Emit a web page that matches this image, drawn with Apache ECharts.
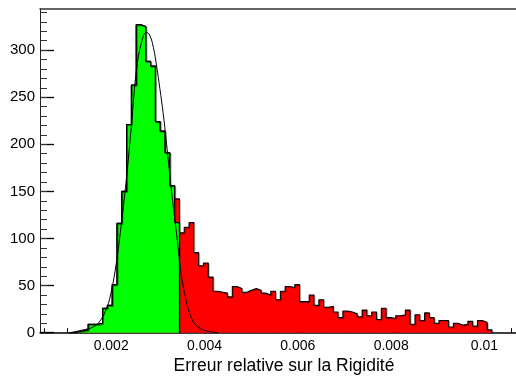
<!DOCTYPE html>
<html>
<head>
<meta charset="utf-8">
<script src="https://cdn.jsdelivr.net/npm/echarts/dist/echarts.min.js"></script>
<style>
  html, body { margin: 0; padding: 0; background: #fff; }
  #main { width: 516px; height: 378px; }
</style>
</head>
<body>
<div id="main"></div>
<script>
// histogram binning (bins of 0.000103, bin j = [j*w, (j+1)*w])
const binWidth = 0.000103;
const firstBin = 10;

// all events, bins 10..97
const allCounts = [
  0, 1, 2, 3, 9, 9, 10, 26, 29, 51,
  116, 150, 221, 263, 327, 325, 288, 283, 224, 214,
  191, 156, 142, 106, 112, 117, 85, 71, 74, 59,
  44, 43, 42, 38, 49, 47, 43, 45, 47, 45,
  42, 40, 44, 35, 44, 49, 48, 51, 33, 33,
  40, 29, 35, 27, 28, 22, 16, 23, 22, 20,
  17, 24, 18, 22, 14, 26, 16, 15, 18, 19,
  24, 9, 19, 13, 21, 16, 10, 13, 13, 6,
  10, 8, 9, 12, 7, 13, 11, 3
];

// selected events (green), bins 10..32
const selCounts = [
  0, 1, 2, 3, 9, 9, 10, 26, 29, 51,
  116, 150, 221, 263, 327, 325, 288, 283, 224, 214,
  191, 156, 117
];

// gaussian fit
const fitX = [0.00105, 0.00134, 0.00155, 0.00169, 0.00184, 0.00194, 0.00205, 0.00216, 0.00227,
  0.00237, 0.00248, 0.00259, 0.00269, 0.00276, 0.00284, 0.00291, 0.00298, 0.00305, 0.00312,
  0.00323, 0.00334, 0.00344, 0.00355, 0.00366, 0.0038, 0.00398, 0.00423];
const fitY = [0, 3, 6, 12, 26, 44, 75, 118, 167, 220, 280, 309, 319, 316, 303, 283, 259, 233, 202,
  150, 104, 61, 33, 15, 6, 2, 0];

const xLabels = [0.002, 0.004, 0.006, 0.008, 0.01];
const yLabels = [0, 50, 100, 150, 200, 250, 300];

const xMinor = [];
for (let i = 1; i <= 21; i++) xMinor.push(i * 0.0005);
const yMinor = [];
for (let i = 1; i <= 34; i++) yMinor.push(i * 10);

function stepData(counts, start) {
  let pts = counts.map((c, i) => [(start + i) * binWidth, c]);
  pts.push([(start + counts.length) * binWidth, 0]);
  return pts;
}

const XMIN = 0.000411, XMAX = 0.010611;
const YMAX = 343.6;
const font = 'Liberation Sans';

let chart = echarts.init(document.getElementById('main'));

let outline = { color: '#000', width: 1.1, shadowColor: 'rgba(0,0,0,0.25)', shadowOffsetX: 1, shadowOffsetY: 1 };

let option = {
  animation: false,
  backgroundColor: '#fff',
  grid: { left: 40, right: 0, top: 9, bottom: 45.3, containLabel: false, outerBoundsMode: 'none' },
  xAxis: [
    {
      type: 'value', position: 'bottom', min: XMIN, max: XMAX,
      axisLine: { show: true, lineStyle: { color: '#000', width: 1.5 } },
      axisTick: { show: true, inside: true, length: 9, customValues: xLabels, lineStyle: { color: '#000', width: 1.2 } },
      axisLabel: {
        show: true, customValues: xLabels, margin: 6, color: '#000',
        fontFamily: font, fontSize: 14, padding: [0, 6, 0, 0],
        formatter: v => String(Math.round(v * 1000) / 1000)
      },
      splitLine: { show: false },
      name: 'Erreur relative sur la Rigidité',
      nameLocation: 'middle', nameGap: 24.5,
      nameTextStyle: { color: '#000', fontFamily: font, fontSize: 17.5, padding: [0, 0, 0, 12] }
    },
    {
      type: 'value', position: 'bottom', min: XMIN, max: XMAX,
      axisLine: { show: false },
      axisTick: { show: true, inside: true, length: 4.5, customValues: xMinor, lineStyle: { color: '#000', width: 1 } },
      axisLabel: { show: false },
      splitLine: { show: false }
    },
    {
      type: 'value', position: 'top', min: XMIN, max: XMAX,
      axisLine: { show: true, lineStyle: { color: '#333', width: 1.5 } },
      axisTick: { show: false }, axisLabel: { show: false }, splitLine: { show: false }
    }
  ],
  yAxis: [
    {
      type: 'value', position: 'left', min: 0, max: YMAX,
      axisLine: { show: true, lineStyle: { color: '#222', width: 1 } },
      axisTick: { show: true, inside: true, length: 14, customValues: yLabels, lineStyle: { color: '#000', width: 1.3 } },
      axisLabel: { show: true, customValues: yLabels, margin: 5, color: '#000', fontFamily: font, fontSize: 15 },
      splitLine: { show: false }
    },
    {
      type: 'value', position: 'left', min: 0, max: YMAX,
      axisLine: { show: false },
      axisTick: { show: true, inside: true, length: 7, customValues: yMinor, lineStyle: { color: '#333', width: 1 } },
      axisLabel: { show: false }, splitLine: { show: false }
    }
  ],
  series: [
    {
      name: 'all', type: 'line', step: 'end', symbol: 'none',
      xAxisIndex: 0, yAxisIndex: 0,
      lineStyle: outline,
      areaStyle: { color: '#ff0000', opacity: 1 },
      data: stepData(allCounts, firstBin)
    },
    {
      name: 'selected', type: 'line', step: 'end', symbol: 'none',
      xAxisIndex: 0, yAxisIndex: 0,
      lineStyle: outline,
      areaStyle: { color: '#00ff00', opacity: 1 },
      data: stepData(selCounts, firstBin)
    },
    {
      name: 'fit', type: 'line', smooth: 0.4, symbol: 'none',
      xAxisIndex: 0, yAxisIndex: 0,
      lineStyle: { color: '#000', width: 1 },
      data: fitX.map((x, i) => [x, fitY[i]])
    }
  ]
};
chart.setOption(option);
</script>
</body>
</html>
